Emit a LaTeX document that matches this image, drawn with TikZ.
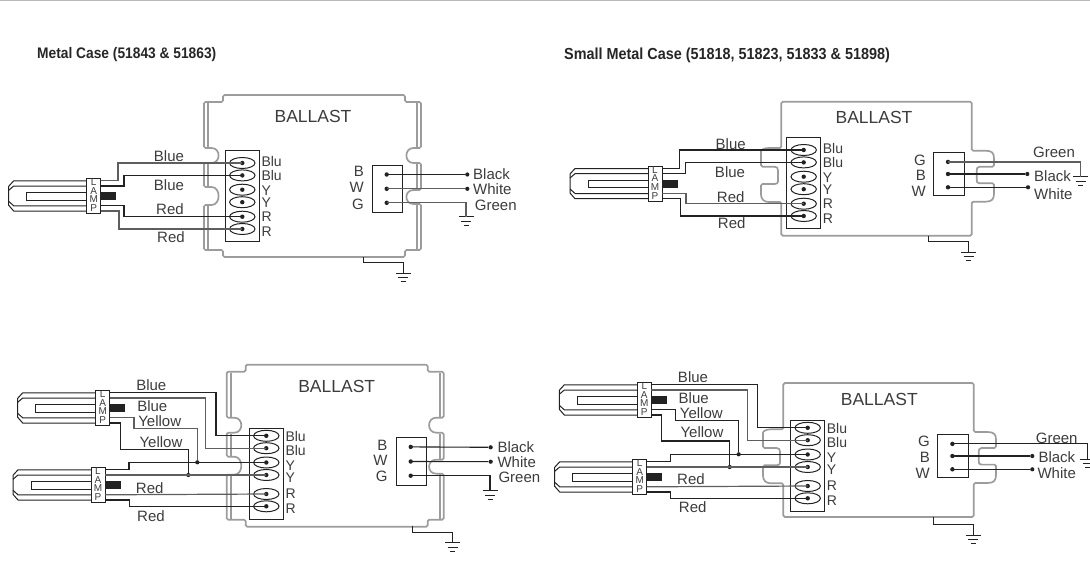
\documentclass[tikz,border=0pt]{standalone}
\usepackage{fontspec}
\setmainfont{Liberation Sans}
\newfontfamily\headfont{Liberation Sans}[FakeStretch=0.9]
\usetikzlibrary{positioning}
\definecolor{casegray}{HTML}{9C9C9C}
\definecolor{wiredark}{HTML}{222222}
\definecolor{wirelight}{HTML}{5E5E5E}
\definecolor{textgray}{HTML}{3C3C3C}
\tikzstyle{casing}=[draw=casegray, line width=1.7pt, rounded corners=1.5pt]
\tikzstyle{wire}=[draw=wiredark, line width=1.1pt]
\tikzstyle{wirelt}=[draw=wirelight, line width=1.2pt]
\tikzstyle{part}=[draw=wiredark, line width=1pt]
\tikzstyle{wireend}=[circle, fill=wiredark, inner sep=0pt, minimum size=4.2pt]
\tikzstyle{wirelabel}=[text=textgray, inner sep=0pt, font=\fontsize{15}{15}\selectfont]
\tikzstyle{endlabel}=[wirelabel, anchor=west]
\tikzstyle{sidelabel}=[wirelabel, anchor=east]
\tikzstyle{lugtext}=[text=textgray, inner sep=0pt, anchor=west, font=\fontsize{14}{14}\selectfont]
\tikzstyle{lamptext}=[text=textgray, inner sep=0pt, font=\fontsize{10}{10}\selectfont]
\tikzstyle{casename}=[text=textgray, inner sep=0pt, font=\fontsize{17.5}{17.5}\selectfont]
\tikzstyle{heading}=[text=black!85, inner sep=0pt, anchor=west, font=\headfont\bfseries]

% Lamp: name, upper left corner of the socket
\newcommand{\lampat}[3]{\begin{scope}[shift={(#2,#3)}]
    \draw[part] (0,2.5) -- (-73,2.5) -- (-78,8) -- (-78,27) -- (-73,32.7) -- (0,32.7);
    \draw[part] (0,7.7) -- (-73,7.7) -- (-78,12);
    \draw[part] (0,27.5) -- (-73,27.5) -- (-78,23);
    \draw[part] (0,14) -- (-60,14) -- (-60,21.7) -- (0,21.7);
    \draw[part] (0,0) rectangle (14,35);
    \fill[wiredark] (14,14) rectangle (29.5,21.7);
    \node[lamptext] (#1L) at (7,4) {L};
    \node[lamptext] (#1A) at (7,12.5) {A};
    \node[lamptext] (#1M) at (7,21) {M};
    \node[lamptext] (#1P) at (7,30) {P};
    \coordinate (#1a) at (14,2.5);
    \coordinate (#1b) at (14,7.7);
    \coordinate (#1c) at (14,27.5);
    \coordinate (#1d) at (14,32.7);
\end{scope}}

% One lug of the terminal block
\newcommand{\lug}[3]{\draw[part] (17,#2) ellipse [x radius=12.7pt, y radius=5.5pt];
    \fill[wiredark] (17,#2) circle (2.2pt);
    \coordinate (#1) at (17,#2);
    \node[lugtext] (#1txt) at (36,#3) {\lugname};}

% Terminal block: name, corner, shift of the upper lugs, shift of their texts
\newcommand{\terminal}[5]{\begin{scope}[shift={(#2,#3)}]
    \draw[part] (0,0) rectangle (34,91);
    \def\lugname{Blu}\lug{#11}{{12.3+#4}}{{11+#5}}
    \lug{#12}{{24.7+#4}}{{25+#5}}
    \def\lugname{Y}\lug{#13}{{39+#4}}{{40+#5}}
    \lug{#14}{{51.5+#4}}{{52+#5}}
    \def\lugname{R}\lug{#15}{66}{66}
    \lug{#16}{78.3}{81}
\end{scope}}

% Output block: name, corner, height, second and third pin
\newcommand{\connbox}[6]{\begin{scope}[shift={(#2,#3)}]
    \draw[part] (0,0) rectangle (30.7,#4);
    \fill[wiredark] (14.7,9.2) circle (2.2pt);
    \fill[wiredark] (14.7,#5) circle (2.2pt);
    \fill[wiredark] (14.7,#6) circle (2.2pt);
    \coordinate (#1a) at (14.7,9.2);
    \coordinate (#1b) at (14.7,#5);
    \coordinate (#1c) at (14.7,#6);
\end{scope}}

% Earth symbol: name, top of the symbol
\newcommand{\earth}[3]{\coordinate (#1) at (#2,#3);
    \draw[part] (#2-7.5,#3) -- (#2+7.5,#3);
    \draw[part] (#2-5,#3+4.5) -- (#2+5,#3+4.5);
    \draw[part] (#2-2.5,#3+8.5) -- (#2+2.5,#3+8.5);}

% Case with side lugs, drawn where the upper left one stands
\newcommand{\metalcase}[2]{\begin{scope}[shift={(#1,#2)}]
    \draw[casing] (223,95) -- (405,95) -- (405,102) -- (421,102) -- (421,148) -- (415,148)
        .. controls (404,148) and (404,163) .. (415,163) -- (421,163) -- (421,190) -- (415,190)
        .. controls (404,190) and (404,204) .. (415,204) -- (421,204) -- (421,250) -- (405,250)
        -- (405,257) -- (223,257) -- (223,250) -- (204,250) -- (204,205) -- (210,205)
        .. controls (221,205) and (221,187) .. (210,187) -- (204,187) -- (204,163) -- (210,163)
        .. controls (221,163) and (221,148) .. (210,148) -- (204,148) -- (204,102) -- (223,102) -- cycle;
    \draw[casing] (208,103) -- (208,148);
    \draw[casing] (208,164) -- (208,187);
    \draw[casing] (208,205) -- (208,249);
    \draw[casing] (417,103) -- (417,148);
    \draw[casing] (417,164) -- (417,190);
    \draw[casing] (417,204) -- (417,249);
\end{scope}}

% Case with wire channels, drawn where the upper right one stands
\newcommand{\smallcase}[2]{\begin{scope}[shift={(#1,#2)}]
    \draw[casing] (781.3,148) -- (781.3,101.7) -- (971.7,101.7) -- (971.7,150.7) -- (984,150.7)
        .. controls (992,150.7) and (994,153) .. (994,160) -- (994,166.7) -- (981,166.7)
        .. controls (977,166.7) and (976.7,169) .. (976.7,172) -- (976.7,178)
        .. controls (976.7,182) and (977,183.3) .. (981,183.3) -- (994,183.3) -- (994,192)
        .. controls (994,199) and (992,201.7) .. (984,201.7) -- (971.7,201.7) -- (971.7,235.7)
        -- (781.3,235.7) -- (781.3,202) -- (770,202) .. controls (764,202) and (761,199) .. (761,193)
        -- (761,184) -- (773,184) .. controls (777,184) and (778,183) .. (778,180) -- (778,172)
        .. controls (778,168) and (777,166.7) .. (773,166.7) -- (761,166.7) -- (761,153)
        .. controls (761,150) and (764,148) .. (770,148) -- cycle;
\end{scope}}

\begin{document}
\begin{tikzpicture}[x=1pt, y=-1pt]
\useasboundingbox (0,0) rectangle (1090,581);
    \draw[draw=casegray!70, line width=1.5pt] (0,0.5) -- (1090,0.5);
    \node[heading] (headA) at (37,55) {\fontsize{15.3}{15.3}\selectfont Metal Case (51843 \& 51863)};
    \node[heading] (headB) at (564,55) {\fontsize{16}{16}\selectfont Small Metal Case (51818, 51823, 51833 \& 51898)};
% Upper left
    \metalcase{0}{0}
    \lampat{lampA}{86.7}{178.3}
    \terminal{termA}{225.3}{150.7}{0}{0}
    \connbox{outA}{372}{165.3}{47.4}{23.5}{37.5}
    \earth{gndAa}{466}{216.7}
    \earth{gndAb}{403.3}{273}
    \node[casename] (nameA) at (313,116.7) {BALLAST};
    \draw[wirelt] (lampAa) -- ++(17.3,0) |- (termA1);
    \draw[wire] (lampAb) -- ++(23.3,0) |- (termA2);
    \draw[wire] (lampAc) -- ++(23.3,0) |- (termA5);
    \draw[wirelt] (lampAd) -- ++(18.3,0) |- (termA6);
    \node[wireend] (blackA) at (467.3,174.5) {};
    \node[wireend] (whiteA) at (467.3,188.8) {};
    \draw[wire] (outAa) -- (blackA);
    \draw[wirelt] (outAb) -- (whiteA);
    \draw[wirelt] (outAc) -| (gndAa);
    \draw[part] (363.3,257) -- ++(0,5.3) -| (gndAb);
    \node[wirelabel] (blueAa) at (169,156) {Blue};
    \node[wirelabel] (blueAb) at (169,185) {Blue};
    \node[wirelabel] (redAa) at (170,209) {Red};
    \node[wirelabel] (redAb) at (171,237) {Red};
    \node[sidelabel] (sideAa) at (364,171) {B};
    \node[sidelabel] (sideAb) at (364,187) {W};
    \node[sidelabel] (sideAc) at (364,204) {G};
    \node[endlabel] (txtAa) at (473,174) {Black};
    \node[endlabel] (txtAb) at (473,189) {White};
    \node[endlabel] (txtAc) at (474.7,205) {Green};
% Upper right
    \smallcase{0}{0}
    \lampat{lampB}{648}{166}
    \terminal{termB}{786.7}{137.7}{0}{0}
    \connbox{outB}{933.3}{152.7}{42.3}{21.3}{34.6}
    \earth{gndBa}{1080.7}{176.7}
    \earth{gndBb}{968.7}{252.3}
    \node[casename] (nameB) at (874,117) {BALLAST};
    \draw[wire] (lampBa) -- ++(17.3,0) |- (termB1);
    \draw[wire] (lampBb) -- ++(23.7,0) |- (termB2);
    \draw[wirelt] (lampBc) -- ++(24,0) |- (termB5);
    \draw[wire] (lampBd) -- ++(18.3,0) |- (termB6);
    \node[wireend] (blackB) at (1027.3,174) {};
    \node[wireend] (whiteB) at (1028,187.3) {};
    \draw[wirelt] (outBa) -| (gndBa);
    \draw[wire] (outBb) -- (blackB);
    \draw[wire] (outBc) -- (whiteB);
    \draw[part] (928.7,235.7) -- ++(0,6) -| (gndBb);
    \node[wirelabel] (blueBa) at (730.7,144) {Blue};
    \node[wirelabel] (blueBb) at (730,171.7) {Blue};
    \node[wirelabel] (redBa) at (730.7,196.7) {Red};
    \node[wirelabel] (redBb) at (731.7,223.3) {Red};
    \node[sidelabel] (sideBa) at (926,160) {G};
    \node[sidelabel] (sideBb) at (926,175.7) {B};
    \node[sidelabel] (sideBc) at (926,191.7) {W};
    \node[wirelabel] (txtBa) at (1054,152.7) {Green};
    \node[endlabel] (txtBb) at (1034,175.7) {Black};
    \node[endlabel] (txtBc) at (1034,194.3) {White};
% Lower left
    \metalcase{22.7}{269.7}
    \lampat{lampCa}{95.7}{390.3}
    \lampat{lampCb}{91}{467.3}
    \terminal{termC}{249.3}{428}{-4.5}{-2.3}
    \connbox{outC}{396}{437.7}{47.4}{23.8}{38}
    \earth{gndCa}{490}{490.7}
    \earth{gndCb}{452.7}{542.7}
    \node[casename] (nameC) at (336.7,386.7) {BALLAST};
    \draw[wire] (lampCaa) -- ++(106.3,0) |- (termC1);
    \draw[wirelt] (lampCab) -- ++(95.6,0) |- (termC2);
    \node[wireend] (joinCa) at (197.3,462.3) {};
    \node[wireend] (joinCb) at (188.3,475) {};
    \draw[wirelt] (lampCac) -- ++(24.3,0) |- (197.3,428.3) -- (joinCa);
    \draw[wire] (lampCad) -- ++(11,0) |- (188.3,449.3) -- (joinCb);
    \draw[wire] (lampCba) -- ++(24,0) |- (termC3);
    \draw[wirelt] (lampCbb) -- (termC4);
    \draw[wirelt] (lampCbc) -- (termC5);
    \draw[wire] (lampCbd) -- ++(24.6,0) |- (termC6);
    \node[wireend] (blackC) at (490.7,447.3) {};
    \node[wireend] (whiteC) at (490.7,461.7) {};
    \draw[wire] (outCa) -- (blackC);
    \draw[wire] (outCb) -- (whiteC);
    \draw[wire] (outCc) -| (gndCa);
    \draw[part] (412.3,525.7) -- ++(0,6.3) -| (gndCb);
    \node[wirelabel] (blueCa) at (151.3,385) {Blue};
    \node[wirelabel] (blueCb) at (152.3,405.7) {Blue};
    \node[wirelabel] (yellowCa) at (159.7,421) {Yellow};
    \node[wirelabel] (yellowCb) at (161,441.7) {Yellow};
    \node[wirelabel] (redCa) at (149.7,487.7) {Red};
    \node[wirelabel] (redCb) at (151,515.7) {Red};
    \node[sidelabel] (sideCa) at (387.7,445) {B};
    \node[sidelabel] (sideCb) at (387.7,460) {W};
    \node[sidelabel] (sideCc) at (387.7,476.7) {G};
    \node[endlabel] (txtCa) at (497.3,446.7) {Black};
    \node[endlabel] (txtCb) at (497.3,461.7) {White};
    \node[endlabel] (txtCc) at (498.3,477.7) {Green};
% Lower right
    \smallcase{2}{281.3}
    \lampat{lampDa}{637.3}{382.3}
    \lampat{lampDb}{632.7}{459.3}
    \terminal{termD}{790.7}{420}{-4.5}{-2.3}
    \connbox{outD}{937.7}{434.7}{43}{21.3}{34.6}
    \earth{gndDa}{1087.7}{459.3}
    \earth{gndDb}{973.3}{535}
    \node[casename] (nameD) at (879.3,399.3) {BALLAST};
    \draw[wire] (lampDaa) -- ++(106,0) |- (termD1);
    \draw[wirelt] (lampDab) -- ++(96,0) |- (termD2);
    \node[wireend] (joinDa) at (738.7,454.3) {};
    \node[wireend] (joinDb) at (729.7,467) {};
    \draw[wire] (lampDac) -- ++(24,0) |- (738.7,420.3) -- (joinDa);
    \draw[wire] (lampDad) -- ++(10.4,0) |- (729.7,441) -- (joinDb);
    \draw[wire] (lampDba) -- ++(23.6,0) |- (termD3);
    \draw[wirelt] (lampDbb) -- (termD4);
    \draw[wirelt] (lampDbc) -- (termD5);
    \draw[wire] (lampDbd) -- ++(24,0) |- (termD6);
    \node[wireend] (blackD) at (1032.3,456) {};
    \node[wireend] (whiteD) at (1032.3,469.3) {};
    \draw[wire] (outDa) -| (gndDa);
    \draw[wire] (outDb) -- (blackD);
    \draw[wire] (outDc) -- (whiteD);
    \draw[part] (933.3,516.7) -- ++(0,7.6) -| (gndDb);
    \node[wirelabel] (blueDa) at (693,376.7) {Blue};
    \node[wirelabel] (blueDb) at (693.7,397.7) {Blue};
    \node[wirelabel] (yellowDa) at (701.3,412.7) {Yellow};
    \node[wirelabel] (yellowDb) at (702,432.3) {Yellow};
    \node[wirelabel] (redDa) at (691,478.7) {Red};
    \node[wirelabel] (redDb) at (692.7,507) {Red};
    \node[sidelabel] (sideDa) at (930,441) {G};
    \node[sidelabel] (sideDb) at (930,457.3) {B};
    \node[sidelabel] (sideDc) at (930,473.3) {W};
    \node[wirelabel] (txtDa) at (1056.7,438.3) {Green};
    \node[endlabel] (txtDb) at (1038.3,456.7) {Black};
    \node[endlabel] (txtDc) at (1037.3,473.3) {White};
\end{tikzpicture}
\end{document}
